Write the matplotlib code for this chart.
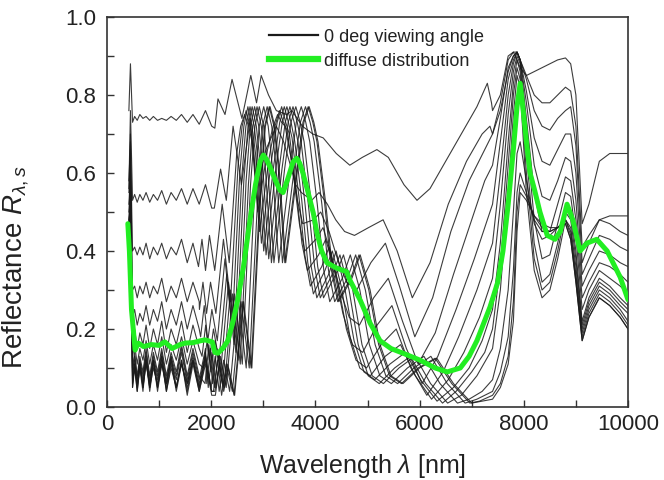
import numpy as np
import matplotlib
matplotlib.use("Agg")
import matplotlib.pyplot as plt
from matplotlib.ticker import MultipleLocator
from matplotlib.lines import Line2D

plt.rcParams['font.family'] = ['Liberation Sans', 'DejaVu Sans']
plt.rcParams['mathtext.fontset'] = 'custom'
plt.rcParams['mathtext.rm'] = 'Liberation Sans'
plt.rcParams['mathtext.it'] = 'Liberation Sans:italic'

# ---------------- data ----------------
# shared short-wavelength (fringe) grid
LAM_F = [420, 450, 490, 530, 580, 630, 690, 750, 820, 890, 970, 1050, 1140,
         1230, 1330, 1430, 1540, 1650, 1770, 1890, 2010, 2140]
# shared long-wavelength grid
LAM_M = [7400, 7550, 7700, 7800, 7870, 7930, 8050, 8200, 8350, 8500, 8650,
         8800, 8900, 9000, 9120, 9250, 9450, 9650, 9850, 10000]

ANGLES = [0, 10, 20, 30, 40, 45, 50, 55, 60, 65, 70, 75, 80, 85]

F_0 = [0.40, 0.70, 0.05, 0.10, 0.04, 0.11, 0.05, 0.12, 0.04, 0.11, 0.05, 0.12, 0.04, 0.11, 0.05, 0.12, 0.03, 0.11, 0.04, 0.12, 0.03, 0.11]
F_10 = [0.39, 0.66, 0.05, 0.11, 0.05, 0.10, 0.04, 0.12, 0.05, 0.12, 0.04, 0.11, 0.05, 0.12, 0.04, 0.11, 0.05, 0.12, 0.04, 0.11, 0.04, 0.12]
F_20 = [0.38, 0.62, 0.06, 0.11, 0.04, 0.10, 0.06, 0.12, 0.05, 0.10, 0.06, 0.13, 0.04, 0.10, 0.05, 0.12, 0.04, 0.12, 0.05, 0.13, 0.04, 0.12]
F_30 = [0.42, 0.58, 0.07, 0.10, 0.06, 0.12, 0.05, 0.11, 0.06, 0.12, 0.05, 0.11, 0.06, 0.13, 0.05, 0.11, 0.06, 0.12, 0.05, 0.13, 0.05, 0.12]
F_40 = [0.45, 0.55, 0.08, 0.12, 0.06, 0.11, 0.07, 0.13, 0.06, 0.12, 0.07, 0.13, 0.06, 0.12, 0.07, 0.14, 0.06, 0.13, 0.06, 0.14, 0.05, 0.13]
F_45 = [0.46, 0.53, 0.09, 0.13, 0.07, 0.12, 0.08, 0.14, 0.07, 0.13, 0.08, 0.14, 0.07, 0.13, 0.08, 0.15, 0.07, 0.14, 0.07, 0.15, 0.06, 0.14]
F_50 = [0.47, 0.52, 0.10, 0.14, 0.08, 0.13, 0.09, 0.15, 0.08, 0.14, 0.09, 0.15, 0.08, 0.14, 0.09, 0.16, 0.08, 0.15, 0.08, 0.16, 0.07, 0.15]
F_55 = [0.48, 0.55, 0.13, 0.16, 0.11, 0.15, 0.12, 0.17, 0.11, 0.16, 0.12, 0.18, 0.11, 0.16, 0.12, 0.18, 0.11, 0.17, 0.11, 0.19, 0.10, 0.18]
F_60 = [0.50, 0.58, 0.17, 0.20, 0.15, 0.19, 0.16, 0.21, 0.15, 0.20, 0.16, 0.22, 0.14, 0.20, 0.16, 0.22, 0.14, 0.21, 0.15, 0.23, 0.13, 0.22]
F_65 = [0.52, 0.60, 0.23, 0.25, 0.21, 0.24, 0.22, 0.26, 0.21, 0.25, 0.22, 0.27, 0.20, 0.25, 0.21, 0.27, 0.20, 0.26, 0.20, 0.28, 0.19, 0.27]
F_70 = [0.55, 0.64, 0.30, 0.31, 0.28, 0.31, 0.29, 0.32, 0.28, 0.31, 0.29, 0.33, 0.27, 0.31, 0.28, 0.33, 0.27, 0.32, 0.27, 0.34, 0.26, 0.33]
F_75 = [0.58, 0.68, 0.40, 0.41, 0.39, 0.41, 0.39, 0.42, 0.38, 0.41, 0.39, 0.42, 0.38, 0.41, 0.39, 0.43, 0.37, 0.42, 0.38, 0.44, 0.37, 0.43]
F_80 = [0.56, 0.76, 0.53, 0.545, 0.525, 0.545, 0.53, 0.55, 0.525, 0.545, 0.53, 0.555, 0.52, 0.55, 0.53, 0.56, 0.52, 0.56, 0.52, 0.57, 0.51, 0.58]
F_85 = [0.76, 0.88, 0.73, 0.745, 0.735, 0.75, 0.74, 0.745, 0.735, 0.745, 0.735, 0.74, 0.735, 0.745, 0.735, 0.75, 0.73, 0.75, 0.725, 0.76, 0.72, 0.77]

W_0 = [2080, 2160, 2240, 2330, 2450, 2620, 2780, 2950, 3040, 3130, 3220, 3300, 3430, 3650, 3780, 3880, 3970, 4050, 4200, 4330, 4450, 4700, 4860, 5050, 5240, 5450, 5680, 6000, 6330, 6650, 7000, 7200]
R_0 = [0.03, 0.11, 0.04, 0.10, 0.03, 0.27, 0.10, 0.55, 0.72, 0.77, 0.72, 0.62, 0.37, 0.60, 0.73, 0.77, 0.73, 0.68, 0.52, 0.35, 0.27, 0.33, 0.39, 0.30, 0.16, 0.08, 0.06, 0.10, 0.125, 0.06, 0.01, 0.015]
W_10 = [2070, 2149, 2229, 2318, 2438, 2607, 2766, 2935, 3025, 3114, 3204, 3284, 3413, 3632, 3761, 3861, 3950, 4030, 4179, 4308, 4428, 4677, 4836, 5025, 5214, 5423, 5652, 5970, 6298, 6617, 6965, 7150]
R_10 = [0.04, 0.10, 0.05, 0.11, 0.03, 0.27, 0.10, 0.55, 0.72, 0.77, 0.72, 0.62, 0.37, 0.60, 0.73, 0.77, 0.73, 0.68, 0.52, 0.35, 0.27, 0.33, 0.39, 0.30, 0.16, 0.08, 0.06, 0.10, 0.125, 0.06, 0.01, 0.015]
W_20 = [2043, 2121, 2200, 2288, 2406, 2573, 2730, 2897, 2985, 3074, 3162, 3241, 3368, 3584, 3712, 3810, 3898, 3977, 4124, 4252, 4370, 4615, 4773, 4959, 5146, 5352, 5578, 5892, 6216, 6530, 6874, 7100]
R_20 = [0.04, 0.12, 0.03, 0.11, 0.04, 0.27, 0.10, 0.55, 0.72, 0.77, 0.72, 0.62, 0.37, 0.60, 0.73, 0.77, 0.73, 0.68, 0.52, 0.35, 0.27, 0.33, 0.39, 0.30, 0.16, 0.08, 0.06, 0.10, 0.13, 0.06, 0.01, 0.02]
W_30 = [1999, 2076, 2153, 2239, 2354, 2518, 2672, 2835, 2921, 3008, 3094, 3171, 3296, 3508, 3633, 3729, 3815, 3892, 4036, 4161, 4276, 4517, 4670, 4853, 5036, 5237, 5458, 5766, 6083, 6391, 6727, 6950, 7200]
R_30 = [0.05, 0.13, 0.04, 0.12, 0.04, 0.28, 0.10, 0.56, 0.72, 0.77, 0.72, 0.62, 0.37, 0.60, 0.73, 0.77, 0.73, 0.68, 0.52, 0.35, 0.27, 0.33, 0.39, 0.30, 0.16, 0.08, 0.06, 0.10, 0.13, 0.06, 0.01, 0.02, 0.04]
W_40 = [1943, 2017, 2092, 2176, 2288, 2447, 2597, 2755, 2839, 2923, 3007, 3082, 3204, 3409, 3531, 3624, 3708, 3783, 3923, 4044, 4156, 4390, 4539, 4717, 4894, 5090, 5305, 5604, 5912, 6211, 6538, 6800, 7100]
R_40 = [0.05, 0.14, 0.05, 0.13, 0.05, 0.29, 0.11, 0.57, 0.72, 0.77, 0.72, 0.62, 0.37, 0.61, 0.73, 0.77, 0.73, 0.68, 0.52, 0.36, 0.28, 0.34, 0.39, 0.30, 0.16, 0.08, 0.06, 0.10, 0.13, 0.06, 0.01, 0.03, 0.08]
W_45 = [1914, 1987, 2061, 2144, 2254, 2410, 2558, 2714, 2797, 2880, 2962, 3036, 3156, 3358, 3478, 3570, 3652, 3726, 3864, 3984, 4094, 4324, 4471, 4646, 4821, 5014, 5226, 5520, 5824, 6118, 6440, 6700, 7000, 7250]
R_45 = [0.06, 0.15, 0.05, 0.14, 0.05, 0.29, 0.11, 0.57, 0.72, 0.77, 0.72, 0.62, 0.37, 0.61, 0.73, 0.77, 0.73, 0.68, 0.52, 0.36, 0.28, 0.34, 0.39, 0.30, 0.16, 0.08, 0.06, 0.10, 0.13, 0.06, 0.01, 0.04, 0.09, 0.14]
W_50 = [1882, 1955, 2027, 2109, 2217, 2371, 2516, 2670, 2751, 2833, 2914, 2987, 3104, 3303, 3421, 3511, 3593, 3665, 3801, 3919, 4027, 4254, 4398, 4570, 4742, 4932, 5140, 5430, 5729, 6018, 6335, 6650, 6950, 7200]
R_50 = [0.06, 0.16, 0.06, 0.15, 0.06, 0.30, 0.12, 0.58, 0.72, 0.77, 0.72, 0.62, 0.38, 0.61, 0.73, 0.77, 0.73, 0.68, 0.52, 0.36, 0.28, 0.34, 0.40, 0.30, 0.17, 0.09, 0.07, 0.11, 0.14, 0.07, 0.015, 0.05, 0.10, 0.17]
W_55 = [1851, 1922, 1994, 2074, 2181, 2332, 2474, 2626, 2706, 2786, 2866, 2937, 3053, 3249, 3364, 3453, 3533, 3605, 3738, 3854, 3961, 4183, 4325, 4495, 4664, 4851, 5055, 5340, 5634, 5919, 6230, 6550, 6850, 7150]
R_55 = [0.10, 0.17, 0.09, 0.17, 0.09, 0.32, 0.14, 0.58, 0.72, 0.77, 0.72, 0.63, 0.39, 0.62, 0.73, 0.77, 0.73, 0.68, 0.53, 0.37, 0.29, 0.35, 0.40, 0.31, 0.18, 0.10, 0.08, 0.13, 0.16, 0.08, 0.02, 0.07, 0.14, 0.23]
W_60 = [1824, 1894, 1964, 2043, 2149, 2298, 2438, 2587, 2666, 2745, 2824, 2894, 3008, 3201, 3315, 3403, 3482, 3552, 3683, 3797, 3903, 4122, 4262, 4429, 4595, 4780, 4981, 5262, 5551, 5832, 6139, 6450, 6750, 7100]
R_60 = [0.13, 0.21, 0.12, 0.20, 0.12, 0.34, 0.16, 0.59, 0.72, 0.77, 0.72, 0.64, 0.40, 0.62, 0.73, 0.77, 0.73, 0.69, 0.54, 0.39, 0.31, 0.36, 0.41, 0.32, 0.20, 0.12, 0.10, 0.16, 0.20, 0.10, 0.03, 0.09, 0.18, 0.30]
W_65 = [1797, 1866, 1935, 2013, 2117, 2264, 2402, 2549, 2627, 2704, 2782, 2851, 2964, 3154, 3266, 3352, 3430, 3499, 3629, 3741, 3845, 4061, 4199, 4363, 4527, 4709, 4908, 5184, 5469, 5746, 6048, 6350, 6700, 7050]
R_65 = [0.18, 0.26, 0.17, 0.25, 0.17, 0.38, 0.20, 0.60, 0.72, 0.77, 0.72, 0.65, 0.42, 0.63, 0.73, 0.77, 0.73, 0.70, 0.56, 0.42, 0.35, 0.39, 0.43, 0.35, 0.24, 0.16, 0.14, 0.21, 0.26, 0.15, 0.06, 0.13, 0.25, 0.38]
W_70 = [1774, 1842, 1911, 1987, 2090, 2235, 2371, 2516, 2593, 2670, 2747, 2815, 2926, 3113, 3224, 3310, 3386, 3455, 3583, 3693, 3796, 4009, 4146, 4308, 4470, 4649, 4845, 5118, 5399, 5672, 5971, 6300, 6650, 7000, 7250]
R_70 = [0.25, 0.32, 0.24, 0.32, 0.24, 0.43, 0.27, 0.62, 0.72, 0.76, 0.72, 0.66, 0.45, 0.64, 0.72, 0.76, 0.73, 0.71, 0.59, 0.47, 0.40, 0.43, 0.46, 0.39, 0.30, 0.23, 0.21, 0.28, 0.33, 0.22, 0.11, 0.19, 0.34, 0.48, 0.58]
W_75 = [1756, 1823, 1891, 1967, 2068, 2211, 2346, 2490, 2566, 2642, 2718, 2785, 2895, 3081, 3190, 3275, 3351, 3418, 3545, 3655, 3756, 3967, 4102, 4262, 4423, 4600, 4794, 5064, 5343, 5613, 5908, 6250, 6600, 6950, 7250]
R_75 = [0.36, 0.43, 0.35, 0.44, 0.35, 0.52, 0.37, 0.65, 0.72, 0.75, 0.72, 0.68, 0.50, 0.66, 0.72, 0.75, 0.73, 0.72, 0.63, 0.53, 0.47, 0.48, 0.50, 0.45, 0.38, 0.32, 0.30, 0.37, 0.42, 0.31, 0.18, 0.28, 0.45, 0.58, 0.66]
W_80 = [2060, 2180, 2290, 2420, 2580, 2750, 2870, 3050, 3250, 3390, 3520, 3620, 3730, 3930, 4070, 4230, 4390, 4560, 4750, 5020, 5300, 5570, 5860, 6200, 6550, 6900, 7200, 7350]
R_80 = [0.51, 0.61, 0.53, 0.72, 0.57, 0.74, 0.56, 0.66, 0.72, 0.68, 0.62, 0.57, 0.55, 0.53, 0.55, 0.52, 0.48, 0.45, 0.44, 0.46, 0.48, 0.40, 0.28, 0.37, 0.52, 0.63, 0.70, 0.72]
W_85 = [2070, 2130, 2265, 2400, 2590, 2760, 2870, 2960, 3100, 3250, 3450, 3550, 3750, 3950, 4150, 4400, 4660, 4900, 5180, 5400, 5700, 5950, 6200, 6500, 6800, 7100, 7300, 7380]
R_85 = [0.715, 0.79, 0.75, 0.84, 0.74, 0.85, 0.78, 0.85, 0.80, 0.76, 0.75, 0.76, 0.72, 0.70, 0.69, 0.65, 0.62, 0.64, 0.66, 0.64, 0.57, 0.53, 0.56, 0.63, 0.70, 0.77, 0.83, 0.78]

M_0 = [0.02, 0.05, 0.11, 0.22, 0.45, 0.55, 0.53, 0.49, 0.47, 0.46, 0.46, 0.47, 0.43, 0.32, 0.17, 0.23, 0.28, 0.26, 0.23, 0.20]
M_10 = [0.03, 0.06, 0.13, 0.27, 0.50, 0.57, 0.54, 0.49, 0.46, 0.45, 0.46, 0.47, 0.43, 0.32, 0.17, 0.23, 0.28, 0.26, 0.23, 0.20]
M_20 = [0.04, 0.09, 0.18, 0.35, 0.55, 0.60, 0.55, 0.48, 0.45, 0.45, 0.46, 0.48, 0.44, 0.33, 0.18, 0.24, 0.29, 0.27, 0.24, 0.21]
M_30 = [0.07, 0.15, 0.30, 0.50, 0.65, 0.68, 0.58, 0.47, 0.43, 0.44, 0.46, 0.48, 0.45, 0.34, 0.19, 0.25, 0.30, 0.28, 0.25, 0.22]
M_40 = [0.15, 0.30, 0.55, 0.75, 0.85, 0.82, 0.55, 0.35, 0.28, 0.30, 0.38, 0.48, 0.46, 0.36, 0.20, 0.26, 0.31, 0.29, 0.26, 0.24]
M_45 = [0.20, 0.36, 0.62, 0.80, 0.87, 0.84, 0.60, 0.38, 0.30, 0.32, 0.40, 0.50, 0.48, 0.38, 0.21, 0.27, 0.32, 0.30, 0.27, 0.25]
M_50 = [0.25, 0.42, 0.68, 0.83, 0.89, 0.86, 0.65, 0.42, 0.32, 0.34, 0.42, 0.51, 0.50, 0.40, 0.22, 0.28, 0.33, 0.31, 0.28, 0.26]
M_55 = [0.33, 0.52, 0.75, 0.86, 0.90, 0.88, 0.70, 0.48, 0.38, 0.39, 0.47, 0.55, 0.54, 0.44, 0.25, 0.30, 0.35, 0.33, 0.31, 0.29]
M_60 = [0.42, 0.60, 0.80, 0.88, 0.91, 0.89, 0.74, 0.55, 0.45, 0.45, 0.52, 0.59, 0.58, 0.48, 0.28, 0.32, 0.37, 0.36, 0.34, 0.32]
M_65 = [0.52, 0.68, 0.84, 0.89, 0.91, 0.89, 0.78, 0.62, 0.54, 0.53, 0.58, 0.64, 0.63, 0.53, 0.31, 0.35, 0.40, 0.39, 0.37, 0.36]
M_70 = [0.62, 0.74, 0.87, 0.90, 0.91, 0.89, 0.81, 0.69, 0.63, 0.62, 0.66, 0.70, 0.70, 0.60, 0.34, 0.38, 0.44, 0.43, 0.41, 0.40]
M_75 = [0.70, 0.78, 0.89, 0.91, 0.91, 0.89, 0.84, 0.76, 0.72, 0.71, 0.74, 0.76, 0.77, 0.67, 0.37, 0.42, 0.48, 0.47, 0.45, 0.44]
M_80 = [0.70, 0.76, 0.86, 0.90, 0.91, 0.89, 0.85, 0.80, 0.78, 0.78, 0.80, 0.82, 0.81, 0.72, 0.41, 0.44, 0.48, 0.49, 0.49, 0.49]
M_85 = [0.76, 0.80, 0.90, 0.91, 0.89, 0.87, 0.85, 0.86, 0.87, 0.88, 0.89, 0.895, 0.88, 0.80, 0.47, 0.52, 0.63, 0.65, 0.65, 0.65]

# diffuse distribution (green)
G_WL = [400, 430, 470, 540, 600, 700, 850, 1000, 1110, 1250, 1400, 1500, 1650, 1800, 1880, 2020,
        2070, 2130, 2220, 2320, 2420, 2510, 2620, 2745, 2850, 2940, 3000, 3060, 3130, 3220, 3320,
        3380, 3470, 3570, 3640, 3700, 3760, 3860, 3960, 4030, 4120, 4220, 4410, 4600, 4660, 4760,
        4860, 5050, 5240, 5450, 5680, 6010, 6300, 6530, 6780, 6950, 7100, 7350, 7500, 7600, 7700,
        7800, 7870, 7930, 7980, 8050, 8120, 8200, 8310, 8450, 8600, 8700, 8830, 8940, 9080, 9210,
        9400, 9600, 9850, 10000]
G_R = [0.47, 0.40, 0.25, 0.146, 0.164, 0.155, 0.16, 0.158, 0.167, 0.15, 0.16, 0.164, 0.165, 0.17, 0.172, 0.167,
       0.14, 0.138, 0.15, 0.17, 0.22, 0.275, 0.36, 0.48, 0.57, 0.63, 0.646, 0.635, 0.615, 0.585, 0.556,
       0.55, 0.585, 0.628, 0.638, 0.625, 0.60, 0.55, 0.497, 0.446, 0.40, 0.37, 0.356, 0.347, 0.326, 0.30,
       0.274, 0.215, 0.17, 0.15, 0.138, 0.12, 0.10, 0.09, 0.10, 0.13, 0.17, 0.256, 0.32, 0.40, 0.52,
       0.66, 0.77, 0.83, 0.77, 0.68, 0.60, 0.56, 0.50, 0.44, 0.43, 0.45, 0.52, 0.48, 0.40, 0.42,
       0.43, 0.40, 0.333, 0.275]

X_TICKS = [0, 2000, 4000, 6000, 8000, 10000]
Y_TICKS = [0.0, 0.2, 0.4, 0.6, 0.8, 1.0]

FRINGE = {0: F_0, 10: F_10, 20: F_20, 30: F_30, 40: F_40, 45: F_45, 50: F_50,
          55: F_55, 60: F_60, 65: F_65, 70: F_70, 75: F_75, 80: F_80, 85: F_85}
MID_W = {0: W_0, 10: W_10, 20: W_20, 30: W_30, 40: W_40, 45: W_45, 50: W_50,
         55: W_55, 60: W_60, 65: W_65, 70: W_70, 75: W_75, 80: W_80, 85: W_85}
MID_R = {0: R_0, 10: R_10, 20: R_20, 30: R_30, 40: R_40, 45: R_45, 50: R_50,
         55: R_55, 60: R_60, 65: R_65, 70: R_70, 75: R_75, 80: R_80, 85: R_85}
LONG = {0: M_0, 10: M_10, 20: M_20, 30: M_30, 40: M_40, 45: M_45, 50: M_50,
        55: M_55, 60: M_60, 65: M_65, 70: M_70, 75: M_75, 80: M_80, 85: M_85}

# ---------------- figure ----------------
fig = plt.figure(figsize=(6.64, 4.8), dpi=100)
ax = fig.add_axes([107/664, 73/480, 521/664, 390/480])

lamF = np.array(LAM_F, float)
lamM = np.array(LAM_M, float)
for ang in ANGLES[::-1]:
    wm = np.array(MID_W[ang], float)
    rm = np.array(MID_R[ang], float)
    fr = np.array(FRINGE[ang], float)
    lg = np.array(LONG[ang], float)
    mf = lamF < wm[0]
    ml = lamM > wm[-1]
    x = np.concatenate([lamF[mf], wm, lamM[ml]])
    y = np.concatenate([fr[mf], rm, lg[ml]])
    ax.plot(x, y, color='#1a1a1a', lw=0.8, alpha=0.85, zorder=2,
            solid_joinstyle='round')

ax.plot(G_WL, G_R, color='#22ee22', lw=3.6, solid_capstyle='round',
        solid_joinstyle='round', zorder=5)

ax.set_xlim(0, 10000)
ax.set_ylim(0.0, 1.0)
ax.set_xticks(X_TICKS)
ax.set_yticks(Y_TICKS)
ax.set_xticklabels([str(v) for v in X_TICKS])
ax.set_yticklabels(['%.1f' % v for v in Y_TICKS])
ax.xaxis.set_minor_locator(MultipleLocator(1000))
ax.yaxis.set_minor_locator(MultipleLocator(0.1))
ax.tick_params(which='both', direction='in', length=5, width=1.0, color='#333333',
               top=False, right=False, labelsize=16, labelcolor='#222222')
ax.tick_params(axis='x', pad=5)
ax.tick_params(axis='y', pad=8)
for sp in ax.spines.values():
    sp.set_linewidth(1.2)
    sp.set_color('#333333')

ax.set_xlabel(r'Wavelength $\lambda$ [nm]', fontsize=18, color='#222222')
ax.set_ylabel(r'Reflectance $R_{\lambda,s}$', fontsize=20, color='#222222')
ax.xaxis.set_label_coords(0.49, -0.115)
ax.yaxis.set_label_coords(-0.145, 0.36)

handles = [Line2D([], [], color='#1a1a1a', lw=1.6),
           Line2D([], [], color='#22ee22', lw=4.5)]
leg = ax.legend(handles, ['0 deg viewing angle', 'diffuse distribution'],
                loc='upper left', bbox_to_anchor=(0.288, 1.0), frameon=False,
                fontsize=13, handlelength=2.7, handletextpad=0.35,
                labelspacing=0.38, borderaxespad=0.25)
for t in leg.get_texts():
    t.set_color('#222222')

fig.savefig('out.png', dpi=100)
